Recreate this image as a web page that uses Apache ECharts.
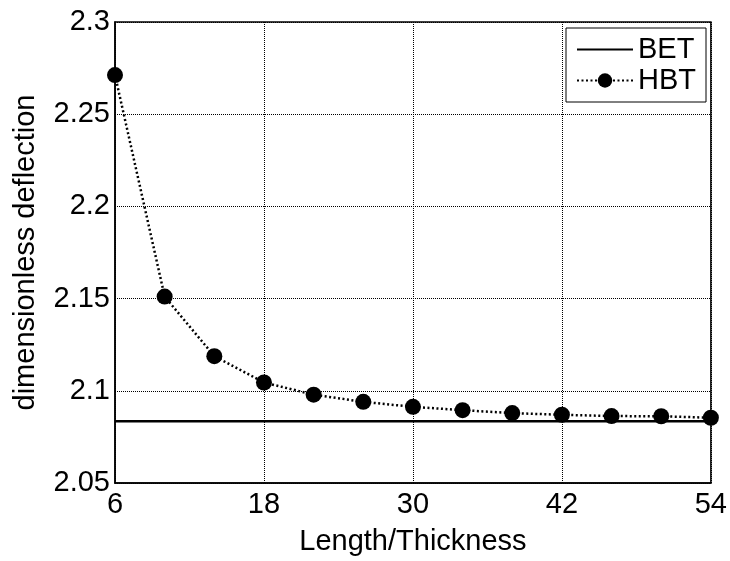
<!DOCTYPE html>
<html>
<head>
<meta charset="utf-8">
<script src="https://cdn.jsdelivr.net/npm/echarts@6/dist/echarts.min.js"></script>
<style>
html,body{margin:0;padding:0;background:#fff;}
#chart{width:730px;height:561px;}
</style>
</head>
<body>
<div id="chart"></div>
<script>
const lengthRatio = [6, 10, 14, 18, 22, 26, 30, 34, 38, 42, 46, 50, 54];
const hbtValues = [2.2712, 2.1511, 2.1188, 2.1045, 2.0979, 2.0940, 2.0913, 2.0895, 2.0879, 2.0870, 2.0863, 2.0862, 2.0854];
const betValue = 2.0835;
const xTicks = [6, 18, 30, 42, 54];
const yTicks = [2.05, 2.1, 2.15, 2.2, 2.25, 2.3];

const betData = [[lengthRatio[0], betValue], [lengthRatio[lengthRatio.length - 1], betValue]];
const hbtData = lengthRatio.map((x, i) => [x, hbtValues[i]]);

const FONT = 'Liberation Sans';
const FS = 29;
const chart = echarts.init(document.getElementById('chart'));
chart.setOption({
  animation: false,
  backgroundColor: '#fff',
  grid: {left: 115, right: 17, top: 22, bottom: 71, show: true, borderColor: '#000', borderWidth: 1.5, backgroundColor: 'transparent'},
  legend: {
    right: 24, top: 28,
    orient: 'vertical',
    backgroundColor: '#fff',
    borderColor: '#000', borderWidth: 1,
    padding: [7, 10, 7, 10],
    itemGap: 2,
    itemWidth: 56, itemHeight: 18,
    textStyle: {fontFamily: FONT, fontSize: FS, color: '#000', lineHeight: 28},
    data: [
      {name: 'BET', itemStyle: {color: 'rgba(0,0,0,0)', borderWidth: 0}},
      {name: 'HBT'}
    ]
  },
  xAxis: {
    type: 'value', min: 6, max: 54, interval: 12,
    name: 'Length/Thickness', nameLocation: 'middle', nameGap: 44,
    nameTextStyle: {fontFamily: FONT, fontSize: FS, color: '#000'},
    axisLine: {show: true, lineStyle: {color: '#000', width: 1.5}},
    axisTick: {show: false},
    axisLabel: {fontFamily: FONT, fontSize: FS, color: '#000', margin: 7},
    splitLine: {show: true, lineStyle: {color: '#000', width: 1, type: [1, 1]}}
  },
  yAxis: {
    type: 'value', min: 2.05, max: 2.3, interval: 0.05,
    name: 'dimensionless deflection', nameLocation: 'middle', nameGap: 75,
    nameTextStyle: {fontFamily: FONT, fontSize: FS, color: '#000'},
    axisLine: {show: true, lineStyle: {color: '#000', width: 1.5}},
    axisTick: {show: false},
    axisLabel: {fontFamily: FONT, fontSize: FS, color: '#000', margin: 5,
      formatter: v => String(+v.toFixed(2))},
    splitLine: {show: true, lineStyle: {color: '#000', width: 1, type: [1, 1]}}
  },
  series: [
    {
      name: 'BET', type: 'line', data: betData,
      showSymbol: false, symbol: 'none',
      lineStyle: {color: '#000', width: 2.5, type: 'solid'},
      itemStyle: {color: '#000'}
    },
    {
      name: 'HBT', type: 'line', data: hbtData,
      symbol: 'circle', symbolSize: 16,
      lineStyle: {color: '#000', width: 2.5, type: [2, 2.5]},
      itemStyle: {color: '#000'}
    }
  ]
});
</script>
</body>
</html>
